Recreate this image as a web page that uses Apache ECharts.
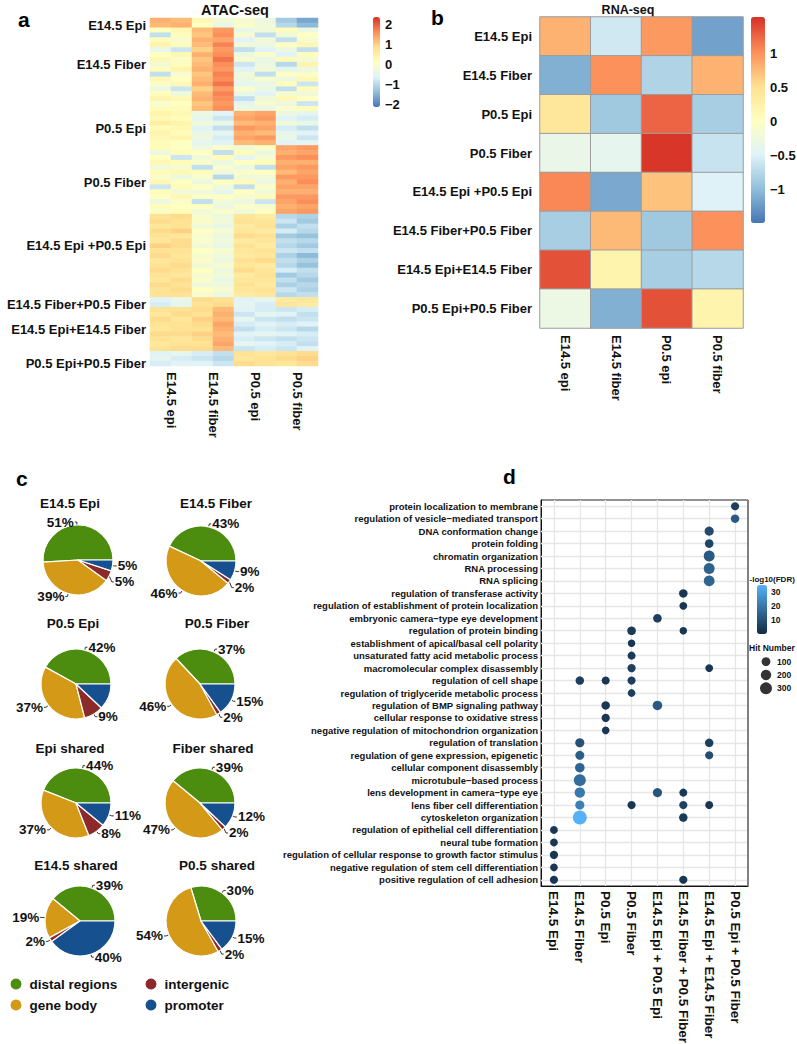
<!DOCTYPE html>
<html><head><meta charset="utf-8">
<script src="https://cdn.jsdelivr.net/npm/echarts@6/dist/echarts.min.js"></script>
<style>html,body{margin:0;padding:0;background:#fff}#c{width:797px;height:1044px}</style>
</head><body><div id="c"></div>
<script>
const FONT = '"Liberation Sans", Arial, Helvetica, sans-serif';

// ===== Panel a: ATAC-seq =====
const atacSamples = ['E14.5 epi', 'E14.5 fiber', 'P0.5 epi', 'P0.5 fiber'];
const atacReplicates = ['E14.5 epi 1', 'E14.5 epi 2', 'E14.5 fiber 1', 'E14.5 fiber 2', 'P0.5 epi 1', 'P0.5 epi 2', 'P0.5 fiber 1', 'P0.5 fiber 2'];
const atacGroups = ['E14.5 Epi', 'E14.5 Fiber', 'P0.5 Epi', 'P0.5 Fiber', 'E14.5 Epi +P0.5 Epi', 'E14.5 Fiber+P0.5 Fiber', 'E14.5 Epi+E14.5 Fiber', 'P0.5 Epi+P0.5 Fiber'];
const atacLabelRow = [1, 9, 22, 33, 46, 58, 63, 70];
const atacE14Epi = [
  [1.3,1.2,0.3,-0.2,-0.1,-0.3,-1.2,-1.6],
  [1.2,1.3,0.1,-0.4,0.0,-0.2,-1.0,-1.4]];
const atacE14Fiber = [
  [0.1,0.3,1.2,1.5,-0.4,-0.2,0.2,-0.3],
  [-0.9,0.2,1.1,1.6,-0.1,-0.9,-0.2,0.1],
  [0.2,-0.1,1.3,1.4,-0.6,-0.2,-0.9,-0.1],
  [0.4,0.2,1.2,1.7,-0.2,-0.3,0.1,0.3],
  [-0.4,-0.8,1.0,1.5,-0.9,-0.6,-0.3,-0.9],
  [0.1,0.3,1.3,1.6,-0.3,0.0,-0.6,0.2],
  [0.3,0.0,1.1,1.8,-0.1,-0.4,0.2,-0.2],
  [-0.2,0.2,1.2,1.6,-0.8,-0.3,-1.0,0.4],
  [0.2,0.4,1.3,1.5,-0.6,-0.2,-0.5,-0.3],
  [-0.9,-0.1,1.1,1.7,-0.2,-0.9,0.1,0.0],
  [0.3,0.1,1.2,1.6,-0.3,-0.1,-0.3,0.3],
  [0.0,0.3,1.3,1.8,-0.5,-0.4,0.2,-0.8],
  [-0.3,-0.8,1.0,1.5,0.0,-0.3,-0.9,0.2],
  [0.2,-0.2,1.2,1.7,-0.4,-0.6,-0.1,-0.2],
  [0.4,0.3,1.3,1.6,-0.9,-0.2,0.3,0.1],
  [-0.1,0.1,1.1,1.5,-0.5,-0.1,-0.3,-0.8],
  [0.2,0.2,1.2,1.6,-0.3,-0.4,0.0,0.2]];
const atacP05Epi = [
  [0.4,0.3,-0.3,-0.6,1.3,1.4,-0.3,-0.5],
  [0.3,0.2,-0.5,-0.8,1.4,1.5,-0.6,-0.7],
  [0.5,0.4,-0.2,-0.4,1.2,1.3,-0.2,-0.4],
  [0.2,0.3,-0.6,-0.9,1.5,1.4,-0.7,-0.9],
  [0.4,0.2,-0.4,-0.5,1.3,1.2,-0.5,-0.6],
  [0.3,0.4,-0.3,-0.7,1.4,1.5,-0.4,-0.8],
  [0.2,0.1,-0.5,-0.6,1.2,1.3,-0.6,-0.5]];
const atacP05Fiber = [
  [0.2,0.1,-0.3,0.0,-0.2,0.1,1.4,1.5],
  [-0.3,0.2,0.1,-0.9,0.2,-0.3,1.3,1.4],
  [0.1,-0.8,-0.2,0.2,-0.5,-0.1,1.5,1.6],
  [0.3,0.2,0.0,-0.3,0.1,0.2,1.3,1.3],
  [-0.2,-0.1,-0.9,-0.1,-0.3,-0.9,1.4,1.5],
  [0.2,0.3,0.2,-0.2,0.0,0.1,1.2,1.4],
  [0.0,-0.3,-0.1,-1.0,-0.2,-0.2,1.5,1.5],
  [0.3,0.1,-0.3,0.1,0.2,-0.3,1.3,1.6],
  [-0.8,0.2,0.1,-0.2,-0.9,0.0,1.4,1.4],
  [0.2,-0.2,-0.2,-0.5,0.1,-0.2,1.3,1.3],
  [0.1,0.3,0.0,0.1,-0.1,0.2,1.5,1.5],
  [-0.3,0.0,-0.9,-0.2,-0.3,-0.8,1.4,1.6],
  [0.2,0.1,0.1,-0.3,0.0,-0.1,1.3,1.4],
  [0.0,0.2,-0.2,0.0,-0.2,0.1,1.4,1.5]];
const atacEpiShared = [
  [0.8,0.9,-0.1,-0.3,0.7,0.6,-1.0,-1.1],
  [0.9,0.8,0.0,-0.2,0.8,0.7,-0.8,-1.2],
  [0.7,0.8,-0.2,-0.4,0.6,0.8,-1.1,-0.9],
  [0.9,1.0,0.1,-0.1,0.7,0.6,-0.7,-1.0],
  [0.8,0.7,-0.1,-0.3,0.9,0.8,-1.2,-1.3],
  [0.7,0.9,0.0,-0.2,0.6,0.7,-0.9,-1.0],
  [1.0,0.9,-0.2,-0.4,0.8,0.6,-1.0,-1.2],
  [0.8,0.8,0.1,-0.1,0.7,0.8,-0.8,-0.9],
  [0.9,0.7,-0.1,-0.2,0.6,0.7,-1.1,-1.4],
  [0.7,0.8,0.0,-0.3,0.8,0.9,-0.9,-1.1],
  [0.8,0.9,-0.2,-0.1,0.7,0.6,-1.0,-1.3],
  [0.9,0.8,0.1,-0.3,0.9,0.7,-0.7,-0.9],
  [0.8,0.7,-0.1,-0.2,0.6,0.8,-1.2,-1.0],
  [0.7,0.9,0.0,-0.4,0.7,0.7,-0.9,-1.2],
  [0.9,0.8,-0.2,-0.2,0.8,0.6,-1.1,-1.0],
  [0.8,0.9,0.1,-0.1,0.7,0.8,-0.8,-1.1],
  [0.8,0.8,-0.1,-0.3,0.6,0.7,-1.0,-0.9]];
const atacFiberShared = [
  [-0.6,-0.4,0.9,0.8,-0.6,-0.5,0.6,0.7],
  [-0.7,-0.5,0.8,0.9,-0.5,-0.7,0.7,0.6]];
const atacE14Shared = [
  [0.8,0.8,0.9,1.2,-0.6,-0.7,-0.8,-0.7],
  [0.7,0.9,0.8,1.3,-0.8,-0.5,-0.6,-0.9],
  [0.9,0.7,1.0,1.2,-0.5,-0.8,-0.9,-0.8],
  [0.8,0.8,0.9,1.4,-0.7,-0.6,-0.7,-0.6],
  [0.7,0.8,0.8,1.3,-0.9,-0.7,-0.8,-1.0],
  [0.9,0.9,1.0,1.2,-0.6,-0.5,-0.6,-0.7],
  [0.8,0.7,0.9,1.3,-0.7,-0.8,-0.9,-0.8],
  [0.7,0.8,0.8,1.4,-0.5,-0.6,-0.7,-0.9],
  [0.8,0.9,0.9,1.2,-0.8,-0.7,-0.8,-0.6]];
const atacP05Shared = [
  [-0.6,-0.5,-0.7,-0.9,0.8,0.7,0.8,0.9],
  [-0.5,-0.7,-0.8,-1.0,0.7,0.8,0.9,1.0],
  [-0.7,-0.6,-0.6,-0.8,0.9,0.8,0.7,0.9]];
const atacScaleTicks = [2, 1, 0, -1, -2];

// ===== Panel b: RNA-seq =====
const rnaSamples = ['E14.5 epi', 'E14.5 fiber', 'P0.5 epi', 'P0.5 fiber'];
const rnaGroups = ['E14.5 Epi', 'E14.5 Fiber', 'P0.5 Epi', 'P0.5 Fiber', 'E14.5 Epi +P0.5 Epi', 'E14.5 Fiber+P0.5 Fiber', 'E14.5 Epi+E14.5 Fiber', 'P0.5 Epi+P0.5 Fiber'];
const rnaValues = [
  [0.8, -0.6, 0.95, -1.2],
  [-1.1, 1.0, -0.8, 0.8],
  [0.4, -0.9, 1.25, -0.85],
  [-0.35, -0.4, 1.5, -0.65],
  [1.05, -1.15, 0.7, -0.5],
  [-0.85, 0.75, -0.9, 1.0],
  [1.35, 0.2, -0.85, -0.75],
  [-0.3, -1.1, 1.35, 0.2]];
const rnaScaleTicks = [1, 0.5, 0, -0.5, -1];

// ===== Panel c: pies =====
const pieTitles = ['E14.5 Epi', 'E14.5 Fiber', 'P0.5 Epi', 'P0.5 Fiber', 'Epi shared', 'Fiber shared', 'E14.5 shared', 'P0.5 shared'];
const pieCategories = ['distal regions', 'gene body', 'intergenic', 'promoter'];
const pieE14Epi = [51, 39, 5, 5];
const pieE14Fiber = [43, 46, 2, 9];
const pieP05Epi = [42, 37, 9, 12];
const pieP05Fiber = [37, 46, 2, 15];
const pieEpiShared = [44, 37, 8, 11];
const pieFiberShared = [39, 47, 2, 12];
const pieE14Shared = [39, 19, 2, 40];
const pieP05Shared = [30, 54, 2, 15];

// ===== Panel d: GO dot plot =====
const goCategories = ['E14.5 Epi', 'E14.5 Fiber', 'P0.5 Epi', 'P0.5 Fiber', 'E14.5 Epi + P0.5 Epi', 'E14.5 Fiber + P0.5 Fiber', 'E14.5 Epi + E14.5 Fiber', 'P0.5 Epi + P0.5 Fiber'];
const goTerms = [
  'protein localization to membrane',
  'regulation of vesicle\u2212mediated transport',
  'DNA conformation change',
  'protein folding',
  'chromatin organization',
  'RNA processing',
  'RNA splicing',
  'regulation of transferase activity',
  'regulation of establishment of protein localization',
  'embryonic camera\u2212type eye development',
  'regulation of protein binding',
  'establishment of apical/basal cell polarity',
  'unsaturated fatty acid metabolic process',
  'macromolecular complex disassembly',
  'regulation of cell shape',
  'regulation of triglyceride metabolic process',
  'regulation of BMP signaling pathway',
  'cellular response to oxidative stress',
  'negative regulation of mitochondrion organization',
  'regulation of translation',
  'regulation of gene expression, epigenetic',
  'cellular component disassembly',
  'microtubule\u2212based process',
  'lens development in camera\u2212type eye',
  'lens fiber cell differentiation',
  'cytoskeleton organization',
  'regulation of epithelial cell differentiation',
  'neural tube formation',
  'regulation of cellular response to growth factor stimulus',
  'negative regulation of stem cell differentiation',
  'positive regulation of cell adhesion'];
// [term index, category index, -log10(FDR), hit number]
const goDots = [
  [0,7,5,60],[1,7,12,80],[2,6,8,120],[3,6,7,90],[4,6,12,230],[5,6,14,230],[6,6,15,220],
  [7,5,3,80],[8,5,3,40],[9,4,5,90],[10,3,4,90],[10,5,3,20],[11,3,3,20],[12,3,4,50],
  [13,3,5,60],[13,6,3,40],[14,1,5,80],[14,2,3,50],[14,3,5,60],[15,3,5,30],
  [16,2,3,80],[16,4,12,150],[17,2,3,60],[18,2,3,30],[19,1,10,120],[19,6,5,80],
  [20,1,13,110],[20,6,9,60],[21,1,15,150],[22,1,17,300],[23,1,20,200],[23,4,11,120],[23,5,4,50],
  [24,1,22,120],[24,3,3,60],[24,5,6,60],[24,6,3,50],[25,1,35,420],[25,5,4,80],
  [26,0,3,40],[27,0,3,40],[28,0,3,60],[29,0,3,30],[30,0,3,60],[30,5,3,60]];
const fdrTicks = [10, 20, 30];
const hitLegend = [100, 200, 300];

// ===== build =====
const RDYLBU = ['#4575B4','#91BFDB','#E0F3F8','#FFFFBF','#FEE090','#FC8D59','#D73027'];
const PIE_COLORS = ['#4C8C0E', '#D49A17', '#8C2A2A', '#17508E'];
const minus = v => String(v).replace('-', '\u2212');
const hitSize = h => 7.2 + 0.016 * h;

const atacGroupRows = [atacE14Epi, atacE14Fiber, atacP05Epi, atacP05Fiber, atacEpiShared, atacFiberShared, atacE14Shared, atacP05Shared];
const atacRows = [];
const rowGroup = [];
atacGroupRows.forEach((g, gi) => g.forEach(r => { atacRows.push(r); rowGroup.push(gi); }));
const atacData = [];
atacRows.forEach((r, ri) => r.forEach((v, ci) => atacData.push([ci, ri, v])));
const rnaData = [];
rnaValues.forEach((r, ri) => r.forEach((v, ci) => rnaData.push([ci, ri, v])));

const bold = (size, extra) => Object.assign({ fontFamily: FONT, fontWeight: 'bold', fontSize: size, color: '#111' }, extra || {});
const hidden = { show: false };

const grids = [
  { left: 150, top: 18, width: 168, height: 348 },     // 0 atac
  { left: 540, top: 17, width: 203, height: 311 },     // 1 rna
  { left: 373, top: 17, width: 7, height: 90 },        // 2 atac colorbar axis
  { left: 751, top: 17, width: 14, height: 206 },      // 3 rna colorbar axis
  { left: 541, top: 500, width: 207, height: 386, show: true, borderColor: '#222', borderWidth: 1, backgroundColor: '#fff' }, // 4 dot plot
  { left: 757, top: 585, width: 10, height: 49 },      // 5 fdr colorbar axis
  { left: 757, top: 655, width: 18, height: 40 }       // 6 hit legend
].map(g => Object.assign({ outerBoundsMode: 'none', containLabel: false }, g));

const xAxes = [
  { gridIndex: 0, type: 'category', data: atacReplicates, axisLine: hidden, axisTick: hidden, axisLabel: hidden, splitLine: hidden },
  { gridIndex: 0, type: 'category', data: atacSamples, position: 'bottom', axisLine: hidden, axisTick: hidden, splitLine: hidden,
    axisLabel: bold(13, { rotate: -90, margin: 6, interval: 0 }) },
  { gridIndex: 1, type: 'category', data: rnaSamples, axisLine: hidden, axisTick: hidden, splitLine: hidden,
    axisLabel: bold(13, { rotate: -90, margin: 7, interval: 0 }) },
  { gridIndex: 2, type: 'category', data: [''], show: false },
  { gridIndex: 3, type: 'category', data: [''], show: false },
  { gridIndex: 4, type: 'category', data: goCategories, splitLine: hidden,
    axisLine: { lineStyle: { color: '#111', width: 1 } },
    axisTick: { alignWithLabel: true, length: 3, lineStyle: { color: '#333' } },
    axisLabel: bold(13.5, { rotate: -90, margin: 5, interval: 0 }) },
  { gridIndex: 5, type: 'category', data: [''], show: false },
  { gridIndex: 6, type: 'category', data: [''], show: false }
];

const yAxes = [
  { gridIndex: 0, type: 'category', inverse: true, data: atacRows.map((_, i) => 'r' + i),
    axisLine: hidden, axisTick: hidden, splitLine: hidden,
    axisLabel: bold(13, { margin: 4, interval: (idx) => atacLabelRow.indexOf(idx) >= 0,
      formatter: (v, idx) => atacGroups[rowGroup[idx]] }) },
  { gridIndex: 1, type: 'category', inverse: true, data: rnaGroups, axisLine: hidden, axisTick: hidden, splitLine: hidden,
    axisLabel: bold(13, { margin: 8, interval: 0 }) },
  { gridIndex: 2, type: 'value', min: -2.1, max: 2.35, position: 'right', axisLine: hidden, axisTick: hidden, splitLine: hidden,
    axisLabel: bold(13, { margin: 5, formatter: v => atacScaleTicks.indexOf(v) >= 0 ? minus(v) : '' }) },
  { gridIndex: 3, type: 'value', min: -1.5, max: 1.53, position: 'right', axisLine: hidden, axisTick: hidden, splitLine: hidden,
    axisLabel: bold(13, { margin: 5, formatter: v => rnaScaleTicks.indexOf(v) >= 0 ? minus(v) : '' }) },
  { gridIndex: 4, type: 'category', inverse: true, data: goTerms, splitLine: hidden,
    axisLine: { lineStyle: { color: '#111', width: 1 } },
    axisTick: { alignWithLabel: true, length: 3, lineStyle: { color: '#333' } },
    axisLabel: bold(9.5, { margin: 3, interval: 0 }) },
  { gridIndex: 5, type: 'value', min: 0, max: 35, interval: 10, position: 'right', axisLine: hidden, splitLine: hidden,
    axisTick: { inside: true, length: 2, lineStyle: { color: '#fff', width: 1 } },
    axisLabel: bold(8.5, { margin: 4, formatter: v => fdrTicks.indexOf(v) >= 0 ? String(v) : '' }) },
  { gridIndex: 6, type: 'category', inverse: true, data: hitLegend.map(String), position: 'right', axisLine: hidden, axisTick: hidden, splitLine: hidden,
    axisLabel: bold(8.5, { margin: 2, interval: 0 }) }
];

const pieSets = [pieE14Epi, pieE14Fiber, pieP05Epi, pieP05Fiber, pieEpiShared, pieFiberShared, pieE14Shared, pieP05Shared];
const pieCenters = [[78,560],[201,561],[76,684],[200,684],[76,803],[200,803],[80,921],[201,921]];
const pieTitlePos = [[70,503],[216,503],[73,623],[217,623],[70,748],[213,748],[76,865],[217,865]];

const series = [
  { type: 'heatmap', xAxisIndex: 0, yAxisIndex: 0, data: atacData, emphasis: { disabled: true }, progressive: 0 },
  { type: 'heatmap', xAxisIndex: 2, yAxisIndex: 1, data: rnaData, emphasis: { disabled: true },
    itemStyle: { borderColor: '#9c9c9c', borderWidth: 1 } },
  // grid lines for dot plot
  { type: 'scatter', xAxisIndex: 5, yAxisIndex: 4, data: [], z: 1, silent: true,
    markLine: { silent: true, symbol: 'none', animation: false, label: hidden, z: 1,
      lineStyle: { color: '#E6E6E6', width: 1.3, type: 'solid' },
      data: goCategories.map(c => ({ xAxis: c })).concat(goTerms.map(t => ({ yAxis: t }))) } },
  { type: 'scatter', xAxisIndex: 5, yAxisIndex: 4, z: 20,
    data: goDots.map(d => [d[1], d[0], d[2], d[3]]),
    symbolSize: v => hitSize(v[3]), itemStyle: { opacity: 1 }, emphasis: { disabled: true } },
  { type: 'scatter', xAxisIndex: 7, yAxisIndex: 6, z: 20,
    data: hitLegend.map((h, i) => [0, i, h]),
    symbolSize: v => hitSize(v[2]), itemStyle: { color: '#000' }, emphasis: { disabled: true } }
];

pieSets.forEach((vals, i) => {
  series.push({
    type: 'pie', center: pieCenters[i], radius: 35, startAngle: 0, clockwise: false,
    color: PIE_COLORS, avoidLabelOverlap: true,
    data: pieCategories.map((n, k) => ({ name: n, value: vals[k] })),
    itemStyle: { borderColor: '#fff', borderWidth: 1.2 },
    label: bold(13.5, { show: true, position: 'outside', formatter: '{c}%', distanceToLabelLine: 1 }),
    labelLine: { show: true, length: 3, length2: 2, lineStyle: { color: '#333', width: 1 } },
    emphasis: { disabled: true }
  });
});

const graphics = [
  { type: 'text', x: 18, y: 19, style: { text: 'a', font: 'bold 21px ' + FONT, fill: '#000', verticalAlign: 'middle' } },
  { type: 'text', x: 431, y: 17, style: { text: 'b', font: 'bold 21px ' + FONT, fill: '#000', verticalAlign: 'middle' } },
  { type: 'text', x: 16, y: 478, style: { text: 'c', font: 'bold 21px ' + FONT, fill: '#000', verticalAlign: 'middle' } },
  { type: 'text', x: 503, y: 476, style: { text: 'd', font: 'bold 21px ' + FONT, fill: '#000', verticalAlign: 'middle' } },
  { type: 'text', x: 235, y: 10, style: { text: 'ATAC-seq', font: 'bold 14.5px ' + FONT, fill: '#111', align: 'center', verticalAlign: 'middle' } },
  { type: 'text', x: 628, y: 10, style: { text: 'RNA-seq', font: 'bold 12.5px ' + FONT, fill: '#111', align: 'center', verticalAlign: 'middle' } },
  { type: 'line', shape: { x1: 748, y1: 500, x2: 748, y2: 886 }, style: { stroke: '#808080', lineWidth: 2 }, z: 10 },
  { type: 'text', x: 749.5, y: 579, z: 11, style: { text: '-log10(FDR)', font: 'bold 8px ' + FONT, fill: '#111', verticalAlign: 'middle' } },
  { type: 'text', x: 749, y: 648, z: 11, style: { text: 'Hit Number', font: 'bold 8.5px ' + FONT, fill: '#111', verticalAlign: 'middle' } }
];
pieTitles.forEach((t, i) => graphics.push({ type: 'text', x: pieTitlePos[i][0], y: pieTitlePos[i][1],
  style: { text: t, font: 'bold 13.5px ' + FONT, fill: '#111', align: 'center', verticalAlign: 'middle' } }));

const legendBase = { orient: 'vertical', icon: 'circle', itemWidth: 17, itemHeight: 13, itemGap: 6, padding: 0,
  textStyle: bold(13.5), selectedMode: false };

const option = {
  animation: false,
  backgroundColor: '#fff',
  textStyle: { fontFamily: FONT },
  grid: grids,
  xAxis: xAxes,
  yAxis: yAxes,
  visualMap: [
    { type: 'continuous', seriesIndex: 0, dimension: 2, min: -2.1, max: 2.35, left: 373, top: 17, itemWidth: 7, itemHeight: 90,
      padding: 0, calculable: false, hoverLink: false, inRange: { color: RDYLBU }, text: null },
    { type: 'continuous', seriesIndex: 1, dimension: 2, min: -1.5, max: 1.53, left: 751, top: 17, itemWidth: 14, itemHeight: 206,
      padding: 0, calculable: false, hoverLink: false, inRange: { color: RDYLBU }, text: null },
    { type: 'continuous', seriesIndex: 3, dimension: 2, min: 0, max: 35, left: 757, top: 585, itemWidth: 10, itemHeight: 49,
      padding: 0, calculable: false, hoverLink: false, inRange: { color: ['#132B43', '#56B1F7'] }, text: null }
  ],
  legend: [
    Object.assign({ left: 8.5, top: 976.5, data: ['distal regions', 'gene body'] }, legendBase),
    Object.assign({ left: 143.5, top: 976.5, data: ['intergenic', 'promoter'] }, legendBase)
  ],
  graphic: graphics,
  series: series
};

const chart = echarts.init(document.getElementById('c'), null, { renderer: 'svg', width: 797, height: 1044 });
chart.setOption(option);
</script>
</body></html>
